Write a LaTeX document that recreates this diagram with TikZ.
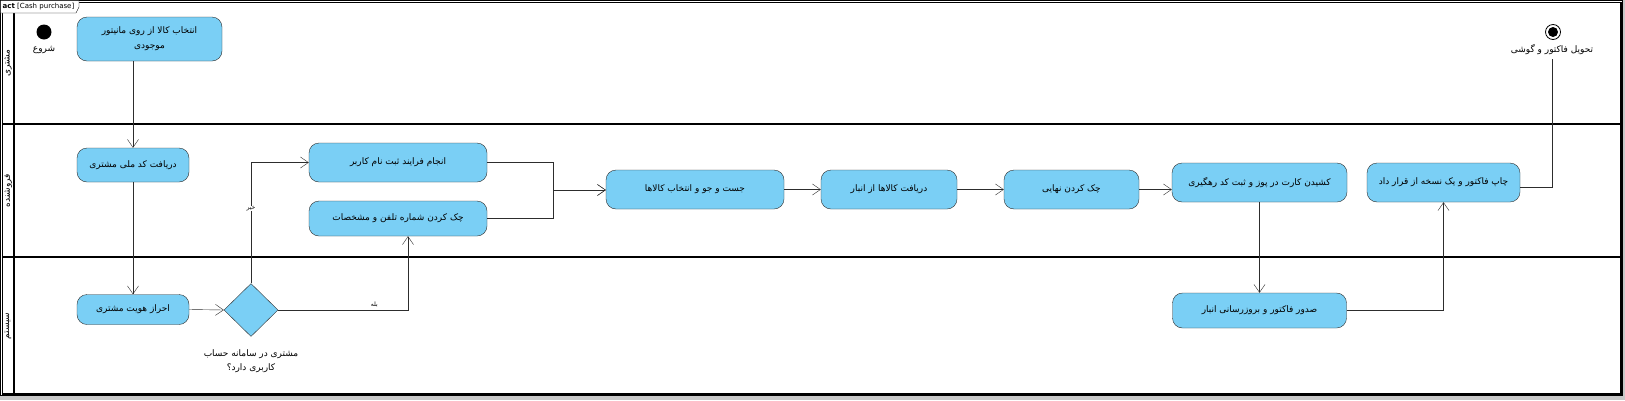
\documentclass[tikz,border=0pt]{standalone}
\usepackage{fontspec}
\usetikzlibrary{arrows.meta,shapes.geometric}
\setmainfont{DejaVu Sans}
\newfontfamily\arabicfont[Script=Arabic]{DejaVu Sans}
\TeXXeTstate=1
\newcommand{\fa}[1]{{\arabicfont\beginR #1\endR}}
\definecolor{actblue}{RGB}{122,207,245}
\definecolor{edge}{RGB}{45,45,45}
\definecolor{bggrey}{RGB}{200,200,200}

\begin{document}
\begin{tikzpicture}[x=1pt, y=-1pt,
    act/.style={draw=edge, fill=actblue, rounded corners=10pt, inner sep=0pt, align=center, font=\fontsize{9}{15}\selectfont},
    dec/.style={draw=edge, fill=actblue, diamond, inner sep=0pt, minimum width=54pt, minimum height=53pt},
    flow/.style={draw=edge, -{Straight Barb[length=8pt,width=11pt]}},
    lbl/.style={align=center, font=\fontsize{9}{13.5}\selectfont},
    small/.style={fill=white, inner sep=0.5pt, font=\fontsize{6}{7}\selectfont}]
    \useasboundingbox (0,0) rectangle (1625,400);
    \fill[bggrey] (0,0) rectangle (1625,400);
    \draw[fill=white] (0.5,0.5) rectangle (1622.5,395.5); %FRAME
    \draw (2,2) rectangle (1621,394);
    \draw[line width=1.6pt] (14,2) -- (14,394) (2,124) -- (1621,124) (2,257) -- (1621,257) (2,394) -- (1621,394) (1621,2) -- (1621,394);
    \draw[fill=white] (0.5,0.5) -- (79,0.5) -- (79,7) -- (76,13) -- (0.5,13) -- cycle;
    \node[font=\fontsize{7}{8}\selectfont, inner sep=0pt] (T) at (38.5,7) {\textbf{act} [Cash purchase]};
    \node[lbl, rotate=90] (P1) at (8,63) {\fa{مشتری}};
    \node[lbl, rotate=90] (P2) at (8,190.5) {\fa{فروشنده}};
    \node[lbl, rotate=90] (P3) at (8,326) {\fa{سیستم}};
    \node[circle, fill=black, minimum size=15pt, inner sep=0pt] (S) at (44,32) {}; %INIZIO
    \node[lbl] (S1) at (44,50) {\fa{شروع}};
    \node[act, minimum width=145pt, minimum height=44pt] (A) at (149.5,39) {\fa{انتخاب کالا از روی مانیتور}\\\fa{موجودی}};
    \node[act, minimum width=112pt, minimum height=34pt] (B) at (133,165) {\fa{دریافت کد ملی مشتری}};
    \node[act, minimum width=112pt, minimum height=30pt] (C) at (133,309.5) {\fa{احراز هویت مشتری}};
    \node[dec] (D) at (251,310) {};
    \node[lbl] (D1) at (251,361) {\fa{مشتری در سامانه حساب}\\\fa{کاربری دارد؟}};
    \node[act, minimum width=178pt, minimum height=39pt] (F) at (398,162.5) {\fa{انجام فرایند ثبت نام کاربر}};
    \node[act, minimum width=178pt, minimum height=35pt] (G) at (398,218.5) {\fa{چک کردن شماره تلفن و مشخصات}};
    \coordinate (J) at (553,190);
    \node[act, minimum width=178pt, minimum height=39pt] (H) at (695,189.5) {\fa{جست و جو و انتخاب کالاها}};
    \node[act, minimum width=136pt, minimum height=39pt] (I) at (889,189.5) {\fa{دریافت کالاها از انبار}};
    \node[act, minimum width=135pt, minimum height=39pt] (K) at (1071.5,189.5) {\fa{چک کردن نهایی}};
    \node[act, minimum width=175pt, minimum height=39pt] (L) at (1259.5,182.5) {\fa{کشیدن کارت در پوز و ثبت کد رهگیری}};
    \node[act, minimum width=153pt, minimum height=39pt] (M) at (1443.5,182.5) {\fa{چاپ فاکتور و یک نسخه از قرار داد}};
    \node[act, minimum width=174pt, minimum height=35pt] (N) at (1259.5,310.5) {\fa{صدور فاکتور و بروزرسانی انبار}};
    \node[circle, draw=black, thick, fill=white, minimum size=15pt, inner sep=0pt] (E) at (1553,32) {}; %FINE
    \node[circle, fill=black, minimum size=10pt, inner sep=0pt] (E0) at (E) {};
    \node[lbl] (E1) at (1552,50) {\fa{تحویل فاکتور و گوشی}};
    \draw[flow] (A.south -| B.north) -- (B.north);
    \draw[flow] (B) -- (C);
    \draw[flow] (C.east) -- (D.west);
    \draw[flow] (D.north) |- node[small, pos=0.31] {\fa{خیر}} (F.west);
    \draw[flow] (D.east) -| node[small, above=2pt, pos=0.37] {\fa{بله}} ([xshift=10pt]G.south);
    \draw[flow] (F.east) -| (J) -- (J -| H.west);
    \draw[flow] (G.east) -| (J) -- (J -| H.west);
    \draw[flow] (H) -- (I);
    \draw[flow] (I) -- (K);
    \draw[flow] (K.east) -- (K.east -| L.west);
    \draw[flow] (L) -- (N);
    \draw[flow] (N.east) -| (M.south);
    \draw[draw=edge] ([yshift=-5pt]M.east) -| (E1.south);
\end{tikzpicture}
\end{document}
